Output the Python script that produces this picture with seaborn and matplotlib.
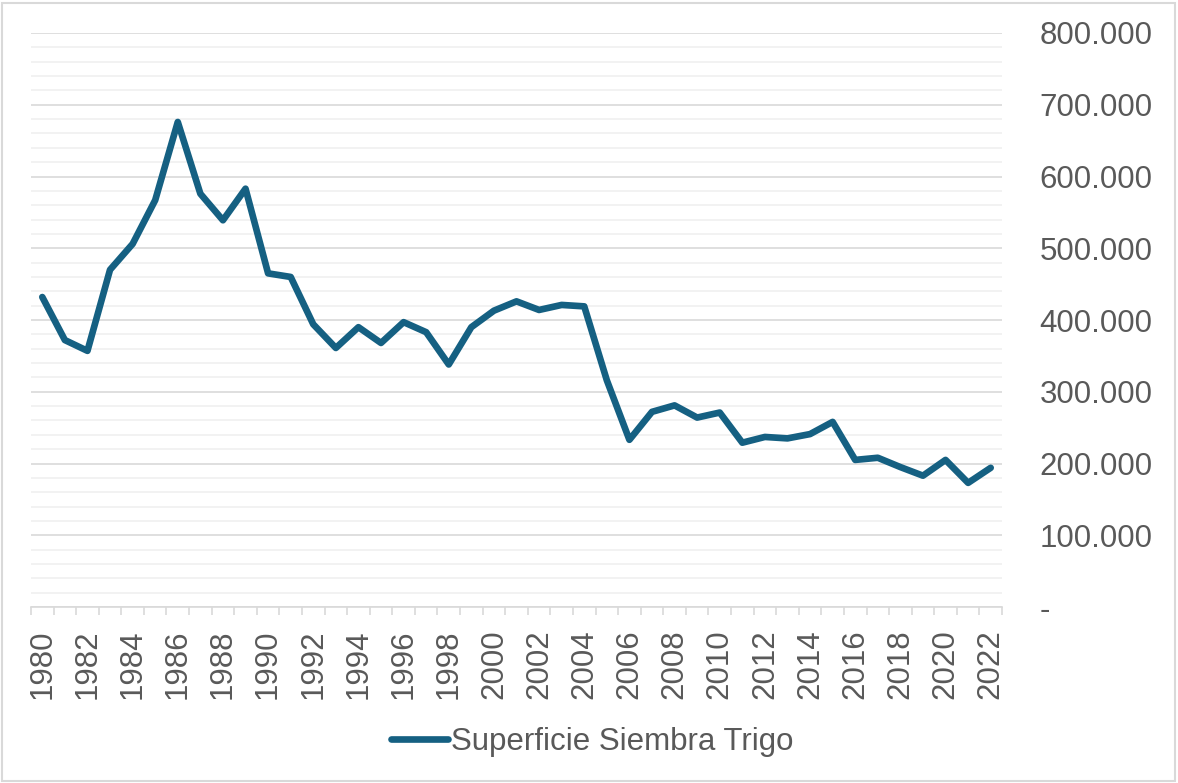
import matplotlib
matplotlib.use("Agg")
import matplotlib.pyplot as plt
from matplotlib.ticker import FuncFormatter, MultipleLocator
from matplotlib.patches import Rectangle
import seaborn as sns
import pandas as pd
import numpy as np

years = list(range(1980, 2023))
superficie = [
    432000, 372000, 357000, 470000, 506000, 567000, 676000, 576000, 539000, 583000,
    465000, 460000, 394000, 361000, 390000, 368000, 397000, 383000, 338000, 390000,
    413000, 426000, 414000, 421000, 419000, 316000, 233000, 272000, 281000, 264000,
    271000, 229000, 237000, 235000, 241000, 258000, 205000, 208000, 195000, 183000,
    205000, 173000, 194000,
]
series_name = "Superficie Siembra Trigo"
y_ticks = [0, 100000, 200000, 300000, 400000, 500000, 600000, 700000, 800000]

df = pd.DataFrame({"year": years, "value": superficie})

sns.set_theme(style="white")
plt.rcParams["font.family"] = ["Liberation Sans", "DejaVu Sans"]

LINE = "#156082"
TEXT = "#595959"

fig = plt.figure(figsize=(11.78, 7.83), dpi=100)
ax = fig.add_axes([31 / 1178, 1 - 607 / 783, (1002 - 31) / 1178, (607 - 33) / 783])

sns.lineplot(data=df, x="year", y="value", ax=ax, color=LINE, linewidth=4.8,
             label=series_name, legend=False,
             solid_joinstyle="round", solid_capstyle="round")

ax.set_xlim(years[0] - 0.5, years[-1] + 0.5)
ax.set_ylim(y_ticks[0], y_ticks[-1])

# gridlines
ax.yaxis.set_major_locator(MultipleLocator(100000))
ax.yaxis.set_minor_locator(MultipleLocator(20000))
ax.grid(which="minor", axis="y", color="#f0f0f0", linewidth=1.2)
ax.grid(which="major", axis="y", color="#d9d9d9", linewidth=1.2)
ax.set_axisbelow(True)

for s in ["top", "left", "right"]:
    ax.spines[s].set_visible(False)
ax.spines["bottom"].set_color("#d9d9d9")
ax.spines["bottom"].set_linewidth(1.2)

# y axis on the right
ax.yaxis.tick_right()
def fmt(v, pos):
    if v == 0:
        return "-"
    return f"{int(round(v)):,}".replace(",", ".")
ax.yaxis.set_major_formatter(FuncFormatter(fmt))
ax.tick_params(axis="y", which="both", length=0, pad=27, labelsize=22.5, labelcolor=TEXT)
for lbl in ax.get_yticklabels():
    lbl.set_horizontalalignment("left")

# x axis: labels every 2 years at category centres, tick marks at boundaries
ax.set_xticks(years[::2])
ax.set_xticklabels([str(y) for y in years[::2]], rotation=90)
ax.set_xticks([y - 0.5 for y in years] + [years[-1] + 0.5], minor=True)
ax.tick_params(axis="x", which="major", length=0, pad=16, labelsize=22.5, labelcolor=TEXT)
ax.tick_params(axis="x", which="minor", length=6, width=1.2, color="#d9d9d9", bottom=True)
ax.set_xlabel("")
ax.set_ylabel("")

handles, labels = ax.get_legend_handles_labels()
leg = fig.legend(handles, labels, loc="center", bbox_to_anchor=(592 / 1178, 1 - 742 / 783),
                 frameon=False, fontsize=22.5, handlelength=1.85, handletextpad=0.08,
                 labelcolor=TEXT)
for h in leg.get_lines():
    h.set_linewidth(4.8)
    h.set_solid_capstyle("round")

fig.patches.append(Rectangle((2 / 1178, 2 / 783), 1 - 5 / 1178, 1 - 5 / 783,
                             transform=fig.transFigure, fill=False,
                             edgecolor="#d9d9d9", linewidth=1.5))

fig.savefig("out.png", dpi=100, facecolor="white")
